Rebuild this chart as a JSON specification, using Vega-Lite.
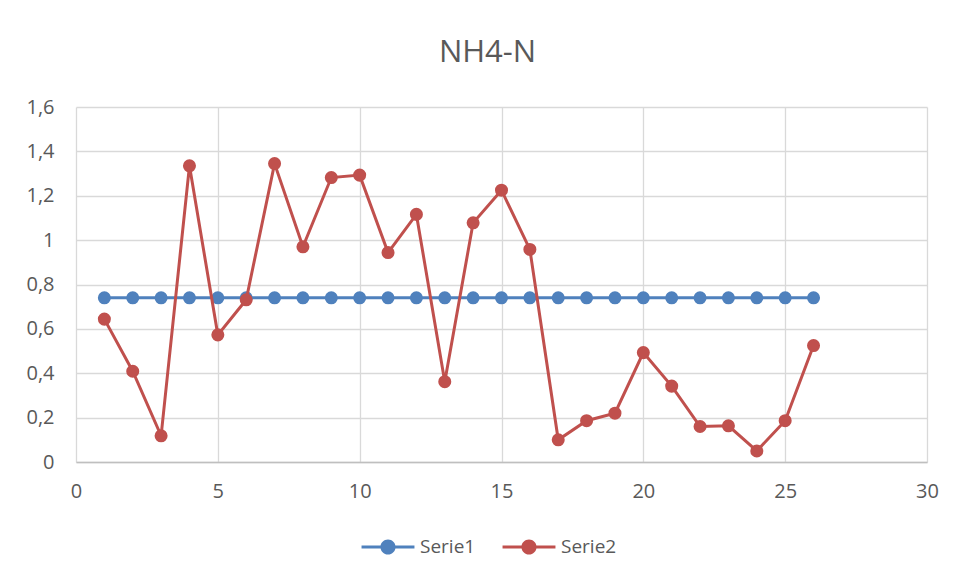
{
  "$schema": "https://vega.github.io/schema/vega-lite/v6.json",
  "width": 851,
  "height": 355,
  "autosize": {"type": "none"},
  "padding": {"left": 76, "top": 107, "right": 27, "bottom": 117},
  "background": "white",
  "title": {"text": "NH4-N", "fontSize": 31, "font": "Open Sans", "fontWeight": "normal", "color": "#595959", "anchor": "middle", "dx": -14, "offset": 4, "baseline": "alphabetic"},
  "config": {"view": {"stroke": null}},
  "datasets": {
    "d": [
      {"x": 1, "series": "Serie1", "value": 0.74}, {"x": 2, "series": "Serie1", "value": 0.74}, {"x": 3, "series": "Serie1", "value": 0.74}, {"x": 4, "series": "Serie1", "value": 0.74}, {"x": 5, "series": "Serie1", "value": 0.74}, {"x": 6, "series": "Serie1", "value": 0.74}, {"x": 7, "series": "Serie1", "value": 0.74}, {"x": 8, "series": "Serie1", "value": 0.74}, {"x": 9, "series": "Serie1", "value": 0.74}, {"x": 10, "series": "Serie1", "value": 0.74}, {"x": 11, "series": "Serie1", "value": 0.74}, {"x": 12, "series": "Serie1", "value": 0.74}, {"x": 13, "series": "Serie1", "value": 0.74}, {"x": 14, "series": "Serie1", "value": 0.74}, {"x": 15, "series": "Serie1", "value": 0.74}, {"x": 16, "series": "Serie1", "value": 0.74}, {"x": 17, "series": "Serie1", "value": 0.74}, {"x": 18, "series": "Serie1", "value": 0.74}, {"x": 19, "series": "Serie1", "value": 0.74}, {"x": 20, "series": "Serie1", "value": 0.74}, {"x": 21, "series": "Serie1", "value": 0.74}, {"x": 22, "series": "Serie1", "value": 0.74}, {"x": 23, "series": "Serie1", "value": 0.74}, {"x": 24, "series": "Serie1", "value": 0.74}, {"x": 25, "series": "Serie1", "value": 0.74}, {"x": 26, "series": "Serie1", "value": 0.74},
      {"x": 1, "series": "Serie2", "value": 0.644}, {"x": 2, "series": "Serie2", "value": 0.409}, {"x": 3, "series": "Serie2", "value": 0.118}, {"x": 4, "series": "Serie2", "value": 1.335}, {"x": 5, "series": "Serie2", "value": 0.573}, {"x": 6, "series": "Serie2", "value": 0.731}, {"x": 7, "series": "Serie2", "value": 1.345}, {"x": 8, "series": "Serie2", "value": 0.97}, {"x": 9, "series": "Serie2", "value": 1.282}, {"x": 10, "series": "Serie2", "value": 1.293}, {"x": 11, "series": "Serie2", "value": 0.944}, {"x": 12, "series": "Serie2", "value": 1.116}, {"x": 13, "series": "Serie2", "value": 0.362}, {"x": 14, "series": "Serie2", "value": 1.078}, {"x": 15, "series": "Serie2", "value": 1.225}, {"x": 16, "series": "Serie2", "value": 0.958}, {"x": 17, "series": "Serie2", "value": 0.1}, {"x": 18, "series": "Serie2", "value": 0.186}, {"x": 19, "series": "Serie2", "value": 0.22}, {"x": 20, "series": "Serie2", "value": 0.493}, {"x": 21, "series": "Serie2", "value": 0.342}, {"x": 22, "series": "Serie2", "value": 0.16}, {"x": 23, "series": "Serie2", "value": 0.163}, {"x": 24, "series": "Serie2", "value": 0.05}, {"x": 25, "series": "Serie2", "value": 0.186}, {"x": 26, "series": "Serie2", "value": 0.525}
    ]
  },
  "data": {"name": "d"},
  "encoding": {
    "x": {"field": "x", "type": "quantitative", "scale": {"domain": [0, 30], "nice": false},
      "axis": {"values": [0, 5, 10, 15, 20, 25, 30], "title": null, "grid": true, "gridColor": "#d9d9d9", "gridWidth": 1.3, "domainColor": "#bfbfbf", "domainWidth": 1.5, "ticks": false, "labelPadding": 19, "labelFontSize": 20, "labelColor": "#595959", "labelFont": "Open Sans", "labelFlush": false}},
    "y": {"field": "value", "type": "quantitative", "scale": {"domain": [0, 1.6], "nice": false},
      "axis": {"values": [0, 0.2, 0.4, 0.6, 0.8, 1, 1.2, 1.4, 1.6], "labelExpr": "replace(format(datum.value, '~g'), '.', ',')", "title": null, "grid": true, "gridColor": "#d9d9d9", "gridWidth": 1.3, "domain": false, "ticks": false, "labelPadding": 22, "labelFontSize": 20, "labelColor": "#595959", "labelFont": "Open Sans"}},
    "color": {"field": "series", "type": "nominal", "scale": {"domain": ["Serie1", "Serie2"], "range": ["#4f81bd", "#c0504d"]},
      "legend": {"orient": "none", "legendX": 285, "legendY": 413, "direction": "horizontal", "title": null,
        "symbolType": "M-0.98,-0.056H0.98V0.056H-0.98Z M0.28,0A0.28,0.28 0 1,1 -0.28,0A0.28,0.28 0 1,1 0.28,0Z",
        "symbolSize": 2916, "symbolStrokeWidth": 0, "symbolOpacity": 1, "labelFontSize": 19, "labelFont": "Open Sans", "labelColor": "#595959", "labelOffset": 5, "columnPadding": 26, "padding": 0}}
  },
  "layer": [
    {"transform": [{"filter": "datum.series == 'Serie1'"}], "mark": {"type": "line", "strokeWidth": 3}},
    {"transform": [{"filter": "datum.series == 'Serie1'"}], "mark": {"type": "point", "filled": true, "opacity": 1, "size": 170, "shape": "circle"}},
    {"transform": [{"filter": "datum.series == 'Serie2'"}], "mark": {"type": "line", "strokeWidth": 3}},
    {"transform": [{"filter": "datum.series == 'Serie2'"}], "mark": {"type": "point", "filled": true, "opacity": 1, "size": 170, "shape": "circle"}}
  ]
}
